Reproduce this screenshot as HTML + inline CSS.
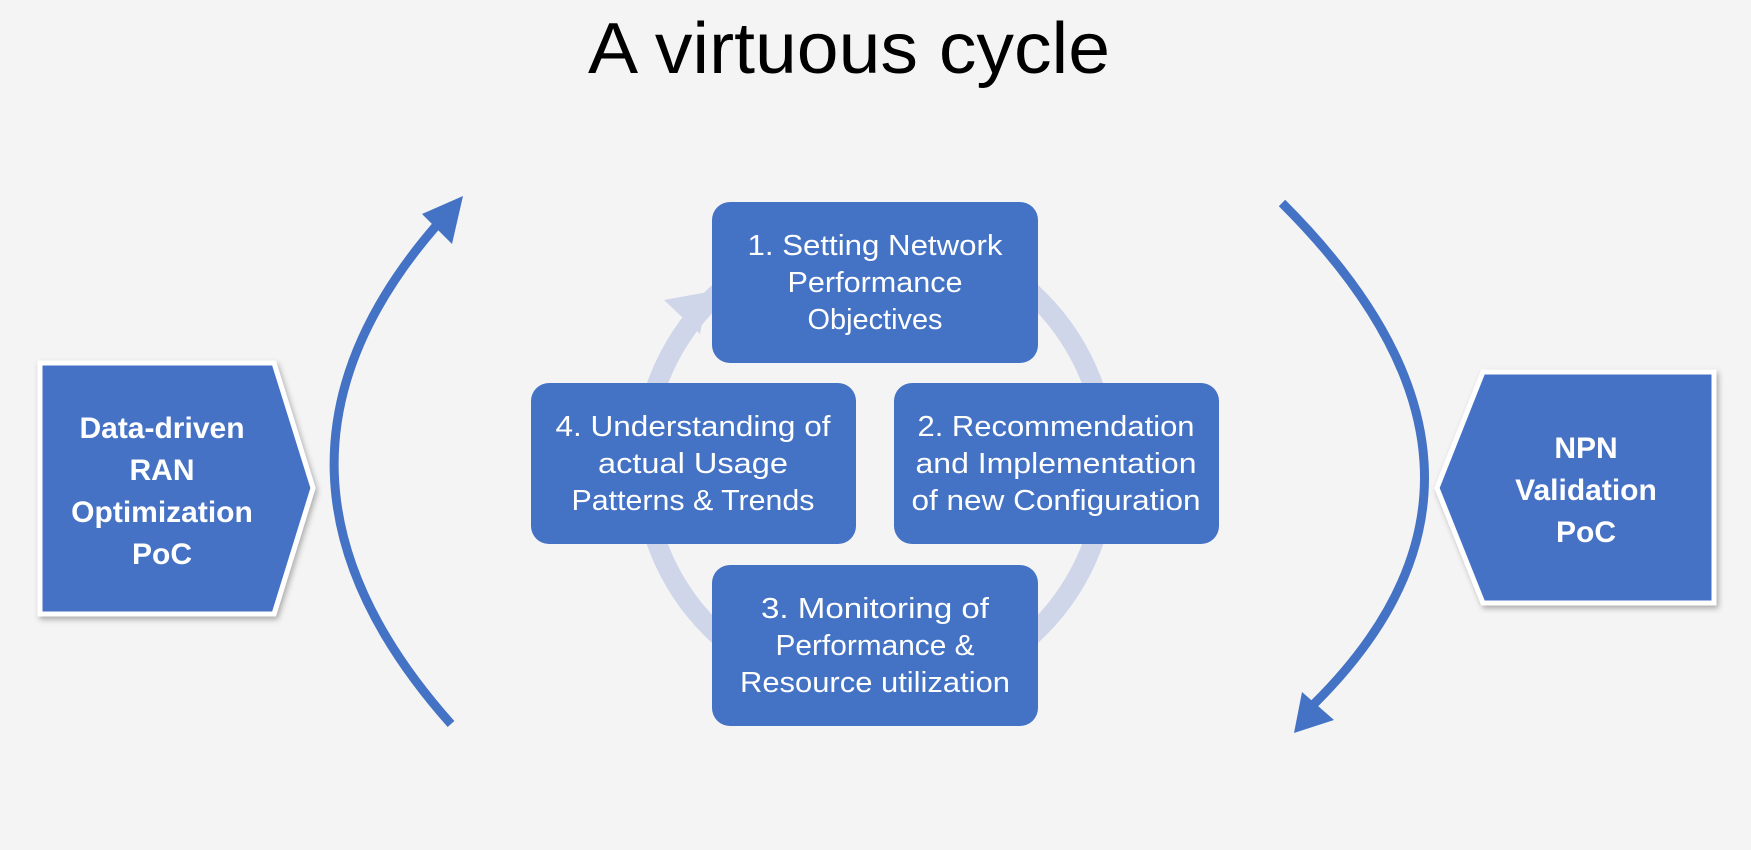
<!DOCTYPE html>
<html><head><meta charset="utf-8"><style>
html,body{margin:0;padding:0;background:#f4f4f5;}
svg{display:block;}
text{font-family:"Liberation Sans",sans-serif;}
</style></head><body>
<svg width="1751" height="850" viewBox="0 0 1751 850" xmlns="http://www.w3.org/2000/svg">
<defs>
<filter id="sh" x="-10%" y="-10%" width="120%" height="120%"><feDropShadow dx="2" dy="3" stdDeviation="3" flood-color="#000" flood-opacity="0.3"/></filter>
</defs>
<rect width="1751" height="850" fill="#f4f4f5"/>
<text x="849" y="73" font-size="72" text-anchor="middle" fill="#000" textLength="522" lengthAdjust="spacingAndGlyphs">A virtuous cycle</text>

<!-- ring -->
<circle cx="875" cy="464" r="232" fill="none" stroke="#cfd6e9" stroke-width="20"/>
<polygon points="708,292 664,300 700,334" fill="#cfd6e9"/>

<!-- boxes -->
<g fill="#4472c4">
<rect x="712" y="202" width="326" height="161" rx="18"/>
<rect x="894" y="383" width="325" height="161" rx="18"/>
<rect x="712" y="565" width="326" height="161" rx="18"/>
<rect x="531" y="383" width="325" height="161" rx="18"/>
</g>
<g fill="#fff" font-size="29" text-anchor="middle" lengthAdjust="spacingAndGlyphs">
<text x="875" y="255" textLength="255" lengthAdjust="spacingAndGlyphs">1. Setting Network</text>
<text x="875" y="292" textLength="175" lengthAdjust="spacingAndGlyphs">Performance</text>
<text x="875" y="329" textLength="135" lengthAdjust="spacingAndGlyphs">Objectives</text>
<text x="1056" y="436" textLength="277" lengthAdjust="spacingAndGlyphs">2. Recommendation</text>
<text x="1056" y="473" textLength="281" lengthAdjust="spacingAndGlyphs">and Implementation</text>
<text x="1056" y="510" textLength="289" lengthAdjust="spacingAndGlyphs">of new Configuration</text>
<text x="875" y="618" textLength="228" lengthAdjust="spacingAndGlyphs">3. Monitoring of</text>
<text x="875" y="655" textLength="199" lengthAdjust="spacingAndGlyphs">Performance &amp;</text>
<text x="875" y="692" textLength="270" lengthAdjust="spacingAndGlyphs">Resource utilization</text>
<text x="693" y="436" textLength="275" lengthAdjust="spacingAndGlyphs">4. Understanding of</text>
<text x="693" y="473" textLength="190" lengthAdjust="spacingAndGlyphs">actual Usage</text>
<text x="693" y="510" textLength="243" lengthAdjust="spacingAndGlyphs">Patterns &amp; Trends</text>
</g>

<!-- pentagons -->
<polygon points="40,363 274,363 313,488 274,614 40,614" fill="#4472c4" stroke="#fff" stroke-width="5" filter="url(#sh)"/>
<polygon points="1714,372 1483,372 1437,488 1483,603 1714,603" fill="#4472c4" stroke="#fff" stroke-width="5" filter="url(#sh)"/>
<g fill="#fff" font-size="30" font-weight="bold" text-anchor="middle">
<text x="162" y="438">Data-driven</text>
<text x="162" y="480">RAN</text>
<text x="162" y="522">Optimization</text>
<text x="162" y="564">PoC</text>
<text x="1586" y="458">NPN</text>
<text x="1586" y="500">Validation</text>
<text x="1586" y="542">PoC</text>
</g>

<!-- side arcs -->
<path d="M451,724 Q225,470 436,226" fill="none" stroke="#4472c4" stroke-width="9"/>
<polygon points="463,196 422,214 452,244" fill="#4472c4"/>
<path d="M1282,203 Q1550,470 1314,704" fill="none" stroke="#4472c4" stroke-width="9"/>
<polygon points="1294,733 1302,692 1334,720" fill="#4472c4"/>
</svg>
</body></html>
